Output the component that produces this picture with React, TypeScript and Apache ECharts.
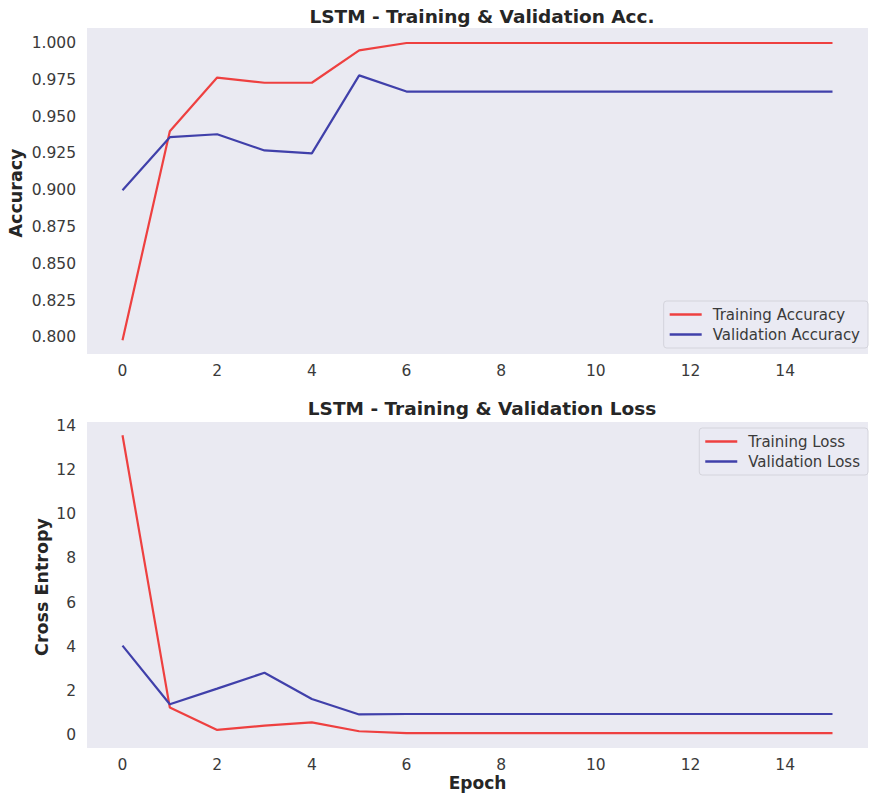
import React, { useEffect, useRef } from "react";
import * as echarts from "echarts";

const epochs = [0, 1, 2, 3, 4, 5, 6, 7, 8, 9, 10, 11, 12, 13, 14, 15];
const trainAcc = [0.798, 0.940, 0.9765, 0.973, 0.973, 0.995, 1.0, 1.0, 1.0, 1.0, 1.0, 1.0, 1.0, 1.0, 1.0, 1.0];
const valAcc = [0.900, 0.936, 0.938, 0.927, 0.925, 0.978, 0.967, 0.967, 0.967, 0.967, 0.967, 0.967, 0.967, 0.967, 0.967, 0.967];
const trainLoss = [13.58, 1.24, 0.23, 0.42, 0.57, 0.17, 0.08, 0.08, 0.08, 0.08, 0.08, 0.08, 0.08, 0.08, 0.08, 0.08];
const valLoss = [4.05, 1.39, 2.1, 2.82, 1.63, 0.93, 0.95, 0.95, 0.95, 0.95, 0.95, 0.95, 0.95, 0.95, 0.95, 0.95];
const xTicks = [0, 2, 4, 6, 8, 10, 12, 14];
const accTicks = [0.8, 0.825, 0.85, 0.875, 0.9, 0.925, 0.95, 0.975, 1.0];
const lossTicks = [0, 2, 4, 6, 8, 10, 12, 14];

const RED = "#ee4040";
const BLUE = "#4040aa";
const FONT = "DejaVu Sans";
const TXT = "#3a3a3a";
const TICK = 15.5;
const NAME = 17.5;
const TITLE = 18.5;
const LEG = 15;

export default function App() {
  const ref = useRef<HTMLDivElement>(null);
  useEffect(() => {
    if (!ref.current) return;
    const chart = echarts.init(ref.current, null, { renderer: "svg" });
    const xAxisBase = (gridIndex: number, name: string) => ({
      type: "value",
      gridIndex,
      min: -0.75,
      max: 15.75,
      name,
      nameLocation: "middle",
      nameGap: 26,
      nameTextStyle: { fontFamily: FONT, fontSize: 17, fontWeight: "bold", color: "#262626", lineHeight: 18 },
      axisLine: { show: false },
      axisTick: { show: false },
      splitLine: { show: false },
      axisLabel: {
        customValues: xTicks,
        fontFamily: FONT,
        fontSize: TICK,
        color: TXT,
        margin: 9,
      },
    });
    const yAxisBase = (gridIndex: number, min: number, max: number, ticks: number[], fmt: (v: number) => string) => ({
      type: "value",
      gridIndex,
      min,
      max,
      axisLine: { show: false },
      axisTick: { show: false },
      splitLine: { show: false },
      axisLabel: {
        customValues: ticks,
        formatter: fmt,
        fontFamily: FONT,
        fontSize: TICK,
        color: TXT,
        margin: 11,
      },
    });
    const legendBase = {
      orient: "vertical",
      icon: "rect",
      itemWidth: 32,
      itemHeight: 2.5,
      itemGap: 5,
      padding: [6, 8, 6, 6],
      backgroundColor: "rgba(234,234,242,0.8)",
      borderColor: "#d4d4dc",
      borderWidth: 1,
      borderRadius: 3,
      textStyle: { fontFamily: FONT, fontSize: LEG, color: TXT, padding: [0, 0, 0, 6] },
    };
    const gridBase = {
      left: 87,
      right: 2,
      height: 326,
      backgroundColor: "#eaeaf2",
      show: true,
      borderWidth: 0,
      containLabel: false,
      outerBoundsMode: "none",
    };
    const yName = (text: string, x: number, y: number) => ({
      type: "text",
      x,
      y,
      rotation: Math.PI / 2,
      style: {
        text,
        fontFamily: FONT,
        fontSize: NAME,
        fontWeight: "bold",
        fill: "#262626",
        textAlign: "center",
        textVerticalAlign: "middle",
      },
    });
    chart.setOption({
      animation: false,
      backgroundColor: "#ffffff",
      title: [
        {
          text: "LSTM - Training & Validation Acc.",
          left: 477,
          top: 2,
          textAlign: "center",
          textStyle: { fontFamily: FONT, fontSize: TITLE, fontWeight: "bold", color: "#262626" },
        },
        {
          text: "LSTM - Training & Validation Loss",
          left: 477,
          top: 394,
          textAlign: "center",
          textStyle: { fontFamily: FONT, fontSize: TITLE, fontWeight: "bold", color: "#262626" },
        },
      ],
      graphic: [yName("Accuracy", 16, 193), yName("Cross Entropy", 42, 587)],
      grid: [
        { ...gridBase, top: 28 },
        { ...gridBase, top: 422 },
      ],
      xAxis: [xAxisBase(0, ""), xAxisBase(1, "Epoch")],
      yAxis: [
        yAxisBase(0, 0.7887, 1.0102, accTicks, (v: number) => v.toFixed(3)),
        yAxisBase(1, -0.59, 14.18, lossTicks, (v: number) => String(v)),
      ],
      legend: [
        { ...legendBase, data: ["Training Accuracy", "Validation Accuracy"], right: 2, top: 301 },
        { ...legendBase, data: ["Training Loss", "Validation Loss"], right: 2, top: 428 },
      ],
      series: [
        {
          name: "Training Accuracy",
          type: "line",
          xAxisIndex: 0,
          yAxisIndex: 0,
          data: epochs.map((e, i) => [e, trainAcc[i]]),
          symbol: "none",
          lineStyle: { color: RED, width: 2.2 },
          itemStyle: { color: RED },
        },
        {
          name: "Validation Accuracy",
          type: "line",
          xAxisIndex: 0,
          yAxisIndex: 0,
          data: epochs.map((e, i) => [e, valAcc[i]]),
          symbol: "none",
          lineStyle: { color: BLUE, width: 2.2 },
          itemStyle: { color: BLUE },
        },
        {
          name: "Training Loss",
          type: "line",
          xAxisIndex: 1,
          yAxisIndex: 1,
          data: epochs.map((e, i) => [e, trainLoss[i]]),
          symbol: "none",
          lineStyle: { color: RED, width: 2.2 },
          itemStyle: { color: RED },
        },
        {
          name: "Validation Loss",
          type: "line",
          xAxisIndex: 1,
          yAxisIndex: 1,
          data: epochs.map((e, i) => [e, valLoss[i]]),
          symbol: "none",
          lineStyle: { color: BLUE, width: 2.2 },
          itemStyle: { color: BLUE },
        },
      ],
    });
    return () => chart.dispose();
  }, []);
  return <div ref={ref} style={{ width: 870, height: 794, position: "absolute", left: 0, top: 0 }} />;
}
